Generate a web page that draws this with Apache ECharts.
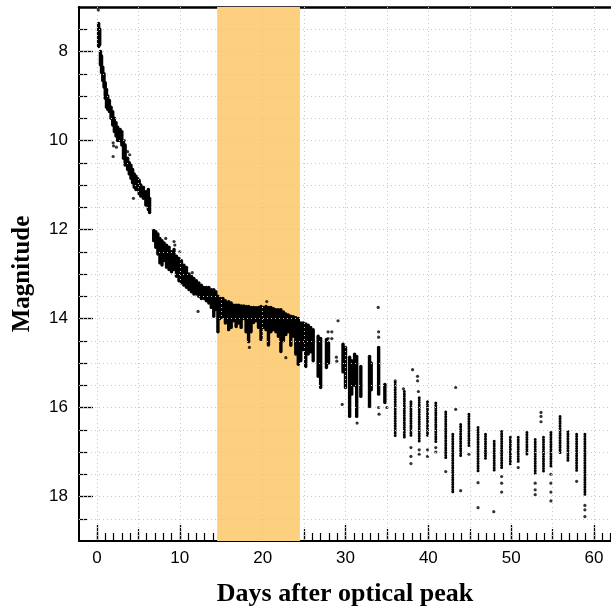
<!DOCTYPE html>
<html><head><meta charset="utf-8">
<script src="https://cdn.jsdelivr.net/npm/echarts@6/dist/echarts.min.js"></script>
<style>html,body{margin:0;padding:0;background:#fff}#c{width:611px;height:608px}</style>
</head><body><div id="c"></div>
<script>
// Tick values
const xTickLabels = [0, 10, 20, 30, 40, 50, 60];
const xMidTicks = [5, 15, 25, 35, 45, 55];
const xMinorTicks = [0, 1, 2, 3, 4, 5, 6, 7, 8, 9, 10, 11, 12, 13, 14, 15, 16, 17, 18, 19, 20, 21, 22, 23, 24, 25, 26, 27, 28, 29, 30,
  31, 32, 33, 34, 35, 36, 37, 38, 39, 40, 41, 42, 43, 44, 45, 46, 47, 48, 49, 50, 51, 52, 53, 54, 55, 56, 57, 58, 59, 60, 61, 62];
const yTickLabels = [8, 10, 12, 14, 16, 18];
const yMinorTicks = [7.5, 8.5, 9, 9.5, 10.5, 11, 11.5, 12.5, 13, 13.5, 14.5, 15, 15.5, 16.5, 17, 17.5, 18.5];
const xGridValues = [0, 5, 10, 15, 20, 25, 30, 35, 40, 45, 50, 55, 60];
const yGridValues = [7.5, 8, 8.5, 9, 9.5, 10, 10.5, 11, 11.5, 12, 12.5, 13, 13.5, 14, 14.5, 15, 15.5, 16, 16.5, 17, 17.5, 18, 18.5];
const highlightBand = [14.5, 24.5];

// Dense streaks of points: [day, brightest mag, faintest mag]
const earlyStreaks = [
  [0.2, 7.37, 7.89], [0.33, 7.5, 7.85], [0.42, 8.0, 8.3], [0.55, 8.1, 8.47], [0.7, 8.35, 8.65],
  [0.85, 8.5, 8.8], [1.0, 8.7, 9.05], [1.15, 8.85, 9.25], [1.3, 9.0, 9.3], [1.5, 9.1, 9.35],
  [1.7, 9.25, 9.5], [1.9, 9.35, 9.65], [2.1, 9.5, 9.8], [2.3, 9.6, 9.9], [2.5, 9.7, 10.0],
  [2.8, 9.75, 10.0], [3.0, 9.8, 10.1], [3.2, 10.05, 10.4], [3.4, 10.1, 10.55], [3.7, 10.4, 10.65],
  [3.9, 10.5, 10.75], [4.1, 10.55, 10.85], [4.3, 10.65, 10.95], [4.5, 10.75, 11.05], [4.7, 10.8, 11.1],
  [4.9, 10.85, 11.1], [5.1, 10.9, 11.2], [5.3, 11.0, 11.25], [5.6, 11.05, 11.3], [5.9, 11.15, 11.45],
  [6.2, 11.1, 11.55], [6.35, 11.3, 11.62]
];
const midStreaks = [
  [6.85, 12.02, 12.25], [7.1, 12.05, 12.4], [7.35, 12.1, 12.55], [7.6, 12.2, 12.75], [7.85, 12.25, 12.8],
  [8.1, 12.3, 12.7], [8.4, 12.35, 12.85], [8.7, 12.4, 12.9], [9.0, 12.5, 12.95], [9.3, 12.45, 12.9],
  [9.6, 12.6, 13.05], [9.9, 12.65, 13.15], [10.2, 12.7, 13.2], [10.5, 12.8, 13.25], [10.8, 12.85, 13.3],
  [11.1, 13.0, 13.35], [11.4, 13.05, 13.4], [11.7, 13.1, 13.45], [12.0, 13.15, 13.45], [12.3, 13.2, 13.5],
  [12.6, 13.25, 13.55], [12.9, 13.3, 13.55], [13.2, 13.3, 13.6], [13.5, 13.3, 13.65], [13.8, 13.35, 13.75],
  [14.1, 13.35, 13.95], [14.35, 13.4, 13.8]
];
const bandStreaks = [
  [14.6, 13.5, 14.3], [14.9, 13.55, 14.0], [15.2, 13.55, 13.96], [15.5, 13.6, 14.1], [15.9, 13.62, 14.25],
  [16.2, 13.65, 14.2], [16.5, 13.7, 14.05], [16.8, 13.7, 14.18], [17.1, 13.7, 14.1], [17.4, 13.72, 14.2],
  [17.7, 13.72, 14.0], [18.0, 13.73, 14.3], [18.3, 13.73, 14.52], [18.6, 13.75, 14.3], [18.9, 13.75, 14.09],
  [19.2, 13.76, 14.05], [19.5, 13.75, 14.2], [19.8, 13.73, 14.47], [20.1, 13.75, 14.2], [20.4, 13.73, 14.25],
  [20.7, 13.75, 14.58], [21.0, 13.75, 14.3], [21.3, 13.78, 14.25], [21.6, 13.8, 14.3], [21.9, 13.8, 14.4],
  [22.2, 13.8, 14.74], [22.5, 13.85, 14.5], [22.8, 13.9, 14.36], [23.1, 13.92, 14.3], [23.4, 13.95, 14.6],
  [23.7, 13.96, 14.4], [24.0, 13.98, 14.8], [24.3, 14.0, 15.03]
];
const postStreaks = [
  [24.6, 14.1, 14.95], [24.9, 14.1, 14.7], [25.2, 14.12, 15.08], [25.5, 14.15, 14.8], [25.8, 14.2, 14.75],
  [26.1, 14.25, 14.95], [26.7, 14.4, 15.3], [27.0, 14.45, 15.55], [27.7, 14.47, 15.1], [27.95, 14.55, 15.0],
  [29.7, 14.58, 15.2], [30.0, 14.65, 15.55], [30.5, 14.87, 16.2], [30.75, 14.95, 15.7], [31.1, 14.8, 15.5],
  [31.35, 14.85, 16.2], [31.85, 15.08, 15.75], [32.9, 14.85, 15.98], [33.1, 15.0, 15.6], [34.0, 14.65, 15.7],
  [34.75, 15.48, 15.89]
];
const lateStreaks = [
  [36.0, 15.44, 16.65], [37.1, 15.64, 16.7], [37.9, 15.87, 16.67], [38.9, 15.78, 16.79], [39.9, 15.87, 16.67],
  [40.9, 15.9, 16.79], [42.1, 16.1, 17.17], [42.95, 16.6, 17.9], [43.9, 16.38, 17.1], [44.9, 16.15, 16.87],
  [46.0, 16.45, 17.46], [46.9, 16.6, 17.17], [47.95, 16.76, 17.44], [48.85, 16.54, 17.39], [49.9, 16.67, 17.28],
  [50.85, 16.67, 17.24], [51.9, 16.56, 17.06], [52.9, 16.72, 17.5], [53.9, 16.67, 17.46], [54.8, 16.56, 17.33],
  [55.9, 16.2, 17.01], [56.85, 16.54, 17.21], [57.9, 16.6, 17.44], [58.9, 16.6, 18.0]
];
// Isolated points: [day, mag]
const isolatedPoints = [
  [0.16, 7.07], [1.95, 10.05], [2.0, 10.12], [1.95, 10.36], [2.35, 10.15], [3.7, 10.25], [3.95, 10.32],
  [4.4, 11.3], [3.3, 10.0], [2.9, 9.8],
  [9.3, 12.27], [9.4, 12.35], [10.0, 12.5], [11.5, 12.97], [12.2, 13.84], [8.3, 12.2],
  [16.2, 14.0], [18.4, 14.65], [20.5, 13.62], [20.7, 14.6], [22.8, 14.88], [17.2, 14.1],
  [27.9, 14.3], [28.35, 14.3], [27.9, 14.45], [28.35, 14.45], [28.9, 14.87], [28.95, 14.96], [29.1, 14.05],
  [29.6, 15.93], [33.95, 13.75], [34.0, 14.3], [34.0, 14.42], [34.0, 16.0], [34.05, 16.15], [31.4, 16.35],
  [35.0, 16.0],
  [36.0, 15.4], [37.0, 15.58], [37.9, 16.9], [37.9, 17.1], [37.9, 17.26], [38.1, 15.15], [38.7, 15.3],
  [38.7, 15.4], [38.8, 15.64], [38.9, 16.95], [38.9, 17.05], [39.9, 16.95], [39.9, 17.1], [40.9, 16.9],
  [40.9, 17.0], [42.1, 17.44], [43.3, 15.55], [43.3, 16.04], [43.9, 17.87], [44.9, 17.05], [46.0, 17.69],
  [46.0, 18.25], [47.9, 18.34], [48.85, 17.55], [48.85, 17.7], [48.85, 17.9], [50.85, 17.35], [52.9, 17.7],
  [52.9, 17.85], [52.9, 17.96], [53.6, 16.11], [53.6, 16.2], [53.6, 16.32], [54.8, 17.5], [54.8, 17.7],
  [54.8, 17.9], [54.8, 18.1], [57.9, 17.66], [58.9, 18.2], [58.9, 18.3], [58.9, 18.45]
];

const denseStreaks = [].concat(earlyStreaks, midStreaks, bandStreaks, postStreaks);
const sparseStreaks = lateStreaks;

const X_MIN = -2.17, X_MAX = 62.05, Y_MIN = 7, Y_MAX = 19;
const labelFont = 'Liberation Sans, Arial, sans-serif';
const titleFont = 'Liberation Serif, Times New Roman, serif';

function xAx(extra) {
  return Object.assign({
    type: 'value', min: X_MIN, max: X_MAX, gridIndex: 0, position: 'bottom',
    axisLine: { show: false, onZero: false }, axisLabel: { show: false }, axisTick: { show: false },
    splitLine: { show: false }
  }, extra);
}
function yAx(extra) {
  return Object.assign({
    type: 'value', min: Y_MIN, max: Y_MAX, inverse: true, gridIndex: 0, position: 'left',
    axisLine: { show: false, onZero: false }, axisLabel: { show: false }, axisTick: { show: false },
    splitLine: { show: false }
  }, extra);
}

function streakSeries(data, z, dash, width) {
  return {
    type: 'custom', z: z, silent: true, data: data,
    encode: { x: 0, y: [1, 2] },
    renderItem: function (params, api) {
      const a = api.coord([api.value(0), api.value(1)]);
      const b = api.coord([api.value(0), api.value(2)]);
      const style = { stroke: '#000', lineWidth: width, lineCap: 'round' };
      if (dash) style.lineDash = dash;
      return { type: 'line', shape: { x1: a[0], y1: a[1], x2: b[0], y2: b[1] }, style: style };
    }
  };
}

const chart = echarts.init(document.getElementById('c'), null, { renderer: 'canvas' });
chart.setOption({
  animation: false,
  backgroundColor: '#fff',
  grid: { left: 79, right: 0, top: 7, bottom: 67, containLabel: false, outerBoundsMode: 'none' },
  xAxis: [
    xAx({
      axisLine: { show: true, onZero: false, lineStyle: { color: '#000', width: 2 } },
      axisTick: { show: true, inside: true, length: 16, customValues: xTickLabels, lineStyle: { color: '#000', width: 1.3 } },
      axisLabel: { show: true, customValues: xTickLabels, color: '#000', fontSize: 17, fontFamily: labelFont, margin: 9 },
      name: 'Days after optical peak', nameLocation: 'middle', nameGap: 40,
      nameTextStyle: { color: '#000', fontSize: 26, fontWeight: 'bold', fontFamily: titleFont }
    }),
    xAx({ axisTick: { show: true, inside: true, length: 12, customValues: xMidTicks, lineStyle: { color: '#000', width: 1.2 } } }),
    xAx({ axisTick: { show: true, inside: true, length: 8, customValues: xMinorTicks, lineStyle: { color: '#000', width: 1.2 } } }),
    xAx({ position: 'top', axisLine: { show: true, onZero: false, lineStyle: { color: '#000', width: 2.5 } } })
  ],
  yAxis: [
    yAx({
      axisLine: { show: true, onZero: false, lineStyle: { color: '#000', width: 2 } },
      axisTick: { show: true, inside: true, length: 14, customValues: yTickLabels, lineStyle: { color: '#000', width: 1.3 } },
      axisLabel: { show: true, customValues: yTickLabels, color: '#000', fontSize: 17, fontFamily: labelFont, margin: 11 },
      name: 'Magnitude', nameLocation: 'middle', nameGap: 44, nameRotate: 90,
      nameTextStyle: { color: '#000', fontSize: 25, fontWeight: 'bold', fontFamily: titleFont }
    }),
    yAx({ axisTick: { show: true, inside: true, length: 8, customValues: yMinorTicks, lineStyle: { color: '#000', width: 1.2 } } })
  ],
  series: [
    {
      type: 'scatter', data: [], z: 1, silent: true,
      markArea: {
        silent: true, itemStyle: { color: '#FDD080', opacity: 1 }, label: { show: false },
        data: [[{ xAxis: highlightBand[0] }, { xAxis: highlightBand[1] }]]
      }
    },
    {
      type: 'scatter', data: [], z: 2, silent: true,
      markLine: {
        silent: true, symbol: ['none', 'none'], label: { show: false },
        lineStyle: { color: '#c8c8c8', width: 1, type: [1, 3] },
        emphasis: { disabled: true },
        data: xGridValues.map(v => ({ xAxis: v })).concat(yGridValues.map(v => ({ yAxis: v })))
      }
    },
    streakSeries(denseStreaks, 3, null, 3.4),
    streakSeries(sparseStreaks, 3, [0, 2.4], 3),
    {
      type: 'scatter', z: 4, silent: true, data: isolatedPoints,
      symbol: 'circle', symbolSize: 3.2, itemStyle: { color: '#000' }
    }
  ]
});
</script></body></html>
